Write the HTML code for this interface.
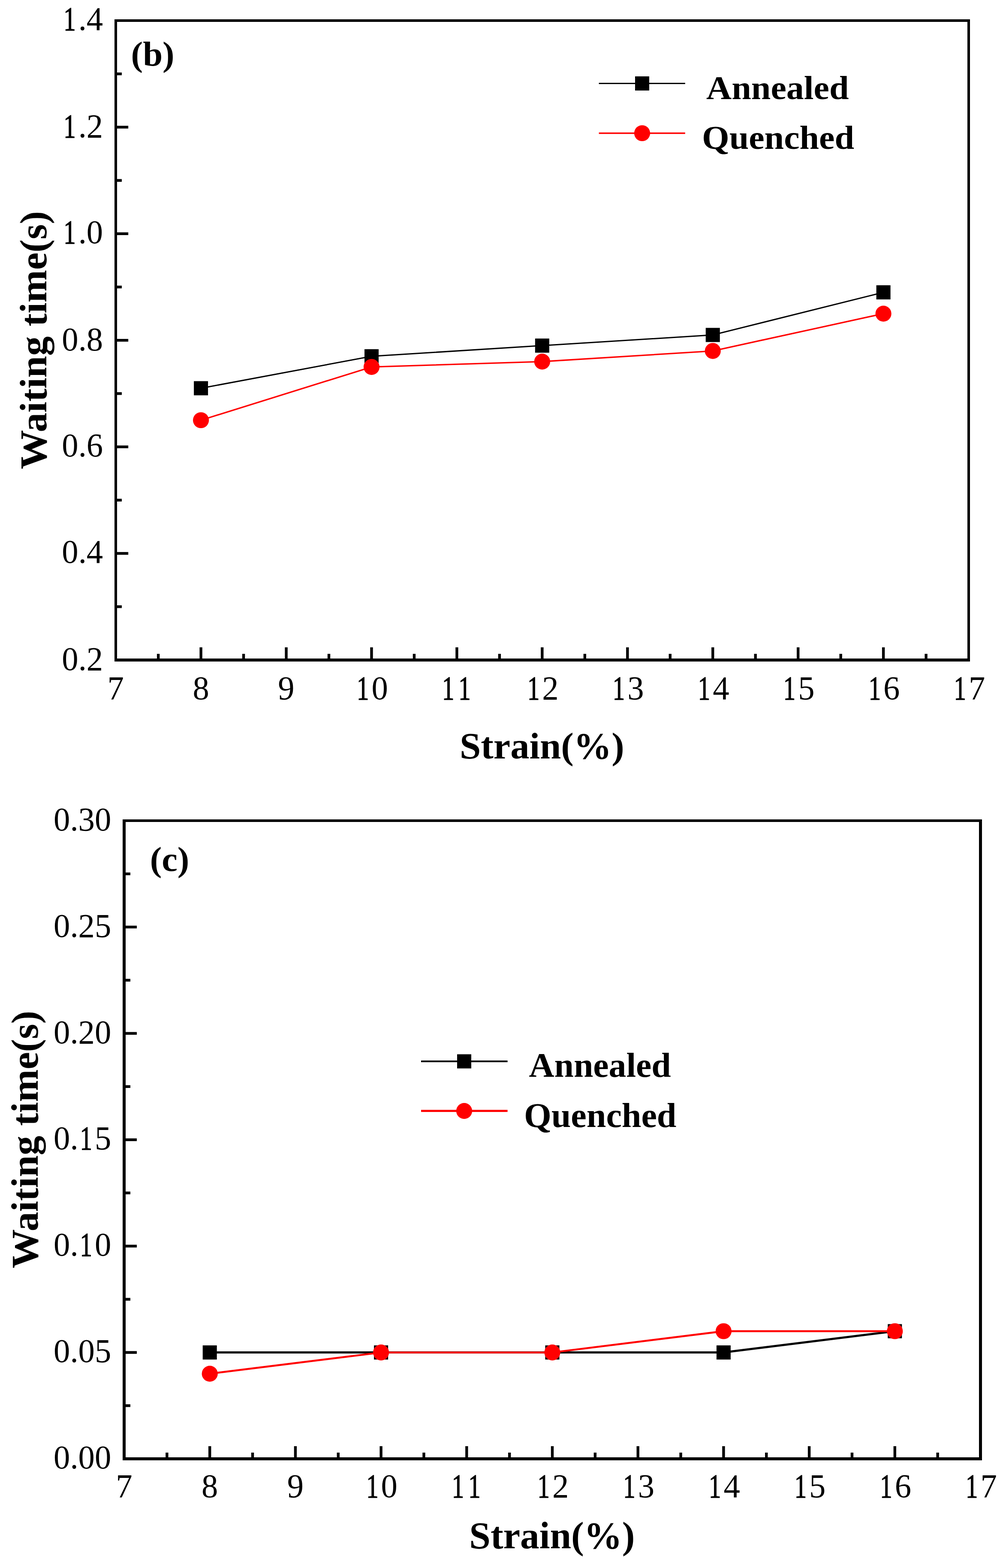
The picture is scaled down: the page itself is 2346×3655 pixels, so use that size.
<!DOCTYPE html>
<html><head><meta charset="utf-8"><title>Waiting time vs Strain</title>
<style>html,body{margin:0;padding:0;background:#fff;}svg{display:block;}</style></head>
<body>
<svg width="2346" height="3655" viewBox="0 0 2346 3655" font-family="'Liberation Serif', 'Times New Roman', serif">
<rect width="100%" height="100%" fill="#fff"/>
<path d="M267 45H2262V51H267Z M267 1535H2262V1542H267Z M267 45H273V1542H267Z M2256 45H2262V1542H2256Z" fill="#000"/>
<line x1="468.60" y1="1538.4" x2="468.60" y2="1508.90" stroke="#000" stroke-width="6.4"/>
<line x1="667.54" y1="1538.4" x2="667.54" y2="1508.90" stroke="#000" stroke-width="6.4"/>
<line x1="866.48" y1="1538.4" x2="866.48" y2="1508.90" stroke="#000" stroke-width="6.4"/>
<line x1="1065.42" y1="1538.4" x2="1065.42" y2="1508.90" stroke="#000" stroke-width="6.4"/>
<line x1="1264.36" y1="1538.4" x2="1264.36" y2="1508.90" stroke="#000" stroke-width="6.4"/>
<line x1="1463.30" y1="1538.4" x2="1463.30" y2="1508.90" stroke="#000" stroke-width="6.4"/>
<line x1="1662.24" y1="1538.4" x2="1662.24" y2="1508.90" stroke="#000" stroke-width="6.4"/>
<line x1="1861.18" y1="1538.4" x2="1861.18" y2="1508.90" stroke="#000" stroke-width="6.4"/>
<line x1="2060.12" y1="1538.4" x2="2060.12" y2="1508.90" stroke="#000" stroke-width="6.4"/>
<line x1="369.13" y1="1538.4" x2="369.13" y2="1524.10" stroke="#000" stroke-width="6.4"/>
<line x1="568.07" y1="1538.4" x2="568.07" y2="1524.10" stroke="#000" stroke-width="6.4"/>
<line x1="767.01" y1="1538.4" x2="767.01" y2="1524.10" stroke="#000" stroke-width="6.4"/>
<line x1="965.95" y1="1538.4" x2="965.95" y2="1524.10" stroke="#000" stroke-width="6.4"/>
<line x1="1164.89" y1="1538.4" x2="1164.89" y2="1524.10" stroke="#000" stroke-width="6.4"/>
<line x1="1363.83" y1="1538.4" x2="1363.83" y2="1524.10" stroke="#000" stroke-width="6.4"/>
<line x1="1562.77" y1="1538.4" x2="1562.77" y2="1524.10" stroke="#000" stroke-width="6.4"/>
<line x1="1761.71" y1="1538.4" x2="1761.71" y2="1524.10" stroke="#000" stroke-width="6.4"/>
<line x1="1960.65" y1="1538.4" x2="1960.65" y2="1524.10" stroke="#000" stroke-width="6.4"/>
<line x1="2159.59" y1="1538.4" x2="2159.59" y2="1524.10" stroke="#000" stroke-width="6.4"/>
<line x1="269.66" y1="1290.00" x2="299.16" y2="1290.00" stroke="#000" stroke-width="6.4"/>
<line x1="269.66" y1="1041.60" x2="299.16" y2="1041.60" stroke="#000" stroke-width="6.4"/>
<line x1="269.66" y1="793.20" x2="299.16" y2="793.20" stroke="#000" stroke-width="6.4"/>
<line x1="269.66" y1="544.80" x2="299.16" y2="544.80" stroke="#000" stroke-width="6.4"/>
<line x1="269.66" y1="296.40" x2="299.16" y2="296.40" stroke="#000" stroke-width="6.4"/>
<line x1="269.66" y1="1414.20" x2="283.96" y2="1414.20" stroke="#000" stroke-width="6.4"/>
<line x1="269.66" y1="1165.80" x2="283.96" y2="1165.80" stroke="#000" stroke-width="6.4"/>
<line x1="269.66" y1="917.40" x2="283.96" y2="917.40" stroke="#000" stroke-width="6.4"/>
<line x1="269.66" y1="669.00" x2="283.96" y2="669.00" stroke="#000" stroke-width="6.4"/>
<line x1="269.66" y1="420.60" x2="283.96" y2="420.60" stroke="#000" stroke-width="6.4"/>
<line x1="269.66" y1="172.20" x2="283.96" y2="172.20" stroke="#000" stroke-width="6.4"/>
<text transform="matrix(1 0 0 1.029 0 1630.30)" font-size="76.7"><tspan x="250.49">7</tspan></text>
<text transform="matrix(1 0 0 1.029 0 1630.30)" font-size="76.7"><tspan x="449.43">8</tspan></text>
<text transform="matrix(1 0 0 1.029 0 1630.30)" font-size="76.7"><tspan x="648.37">9</tspan></text>
<text transform="matrix(1 0 0 1.029 0 1630.30)" font-size="76.7"><tspan x="832.03" textLength="28.38" lengthAdjust="spacingAndGlyphs" stroke="#000" stroke-width="1.4">1</tspan><tspan x="866.48">0</tspan></text>
<text transform="matrix(1 0 0 1.029 0 1630.30)" font-size="76.7"><tspan x="1030.97" textLength="28.38" lengthAdjust="spacingAndGlyphs" stroke="#000" stroke-width="1.4">1</tspan><tspan x="1069.32" textLength="28.38" lengthAdjust="spacingAndGlyphs" stroke="#000" stroke-width="1.4">1</tspan></text>
<text transform="matrix(1 0 0 1.029 0 1630.30)" font-size="76.7"><tspan x="1229.91" textLength="28.38" lengthAdjust="spacingAndGlyphs" stroke="#000" stroke-width="1.4">1</tspan><tspan x="1264.36">2</tspan></text>
<text transform="matrix(1 0 0 1.029 0 1630.30)" font-size="76.7"><tspan x="1428.85" textLength="28.38" lengthAdjust="spacingAndGlyphs" stroke="#000" stroke-width="1.4">1</tspan><tspan x="1463.30">3</tspan></text>
<text transform="matrix(1 0 0 1.029 0 1630.30)" font-size="76.7"><tspan x="1627.79" textLength="28.38" lengthAdjust="spacingAndGlyphs" stroke="#000" stroke-width="1.4">1</tspan><tspan x="1662.24">4</tspan></text>
<text transform="matrix(1 0 0 1.029 0 1630.30)" font-size="76.7"><tspan x="1826.73" textLength="28.38" lengthAdjust="spacingAndGlyphs" stroke="#000" stroke-width="1.4">1</tspan><tspan x="1861.18">5</tspan></text>
<text transform="matrix(1 0 0 1.029 0 1630.30)" font-size="76.7"><tspan x="2025.67" textLength="28.38" lengthAdjust="spacingAndGlyphs" stroke="#000" stroke-width="1.4">1</tspan><tspan x="2060.12">6</tspan></text>
<text transform="matrix(1 0 0 1.029 0 1630.30)" font-size="76.7"><tspan x="2224.61" textLength="28.38" lengthAdjust="spacingAndGlyphs" stroke="#000" stroke-width="1.4">1</tspan><tspan x="2259.06">7</tspan></text>
<text transform="matrix(1 0 0 1.029 0 1561.85)" font-size="76.7"><tspan x="144.32">0</tspan><tspan x="182.67">.</tspan><tspan x="201.85">2</tspan></text>
<text transform="matrix(1 0 0 1.029 0 1312.35)" font-size="76.7"><tspan x="144.32">0</tspan><tspan x="182.67">.</tspan><tspan x="201.85">4</tspan></text>
<text transform="matrix(1 0 0 1.029 0 1063.90)" font-size="76.7"><tspan x="144.32">0</tspan><tspan x="182.67">.</tspan><tspan x="201.85">6</tspan></text>
<text transform="matrix(1 0 0 1.029 0 816.60)" font-size="76.7"><tspan x="144.32">0</tspan><tspan x="182.67">.</tspan><tspan x="201.85">8</tspan></text>
<text transform="matrix(1 0 0 1.029 0 566.80)" font-size="76.7"><tspan x="148.23" textLength="28.38" lengthAdjust="spacingAndGlyphs" stroke="#000" stroke-width="1.4">1</tspan><tspan x="182.67">.</tspan><tspan x="201.85">0</tspan></text>
<text transform="matrix(1 0 0 1.029 0 319.80)" font-size="76.7"><tspan x="148.23" textLength="28.38" lengthAdjust="spacingAndGlyphs" stroke="#000" stroke-width="1.4">1</tspan><tspan x="182.67">.</tspan><tspan x="201.85">2</tspan></text>
<text transform="matrix(1 0 0 1.029 0 70.00)" font-size="76.7"><tspan x="148.23" textLength="28.38" lengthAdjust="spacingAndGlyphs" stroke="#000" stroke-width="1.4">1</tspan><tspan x="182.67">.</tspan><tspan x="201.85">4</tspan></text>
<polyline points="468.60,904.98 866.48,830.46 1264.36,805.62 1662.24,780.78 2060.12,681.42" fill="none" stroke="#000" stroke-width="3"/>
<rect x="452.10" y="888.48" width="33" height="33" fill="#000"/>
<rect x="849.98" y="813.96" width="33" height="33" fill="#000"/>
<rect x="1247.86" y="789.12" width="33" height="33" fill="#000"/>
<rect x="1645.74" y="764.28" width="33" height="33" fill="#000"/>
<rect x="2043.62" y="664.92" width="33" height="33" fill="#000"/>
<polyline points="468.60,979.50 866.48,855.30 1264.36,842.88 1662.24,818.04 2060.12,731.10" fill="none" stroke="#f00" stroke-width="3.3"/>
<circle cx="468.60" cy="979.50" r="18.6" fill="#f00"/>
<circle cx="866.48" cy="855.30" r="18.6" fill="#f00"/>
<circle cx="1264.36" cy="842.88" r="18.6" fill="#f00"/>
<circle cx="1662.24" cy="818.04" r="18.6" fill="#f00"/>
<circle cx="2060.12" cy="731.10" r="18.6" fill="#f00"/>
<line x1="1396.6" y1="194.5" x2="1597.8" y2="194.5" stroke="#000" stroke-width="3"/>
<rect x="1481.0" y="178.0" width="33" height="33" fill="#000"/>
<line x1="1396.6" y1="310.5" x2="1597.8" y2="310.5" stroke="#f00" stroke-width="3.3"/>
<circle cx="1497.5" cy="310.5" r="18.6" fill="#f00"/>
<path d="M286 1910H2290V1916H286Z M286 3397H2290V3404H286Z M286 1910H293V3404H286Z M2283 1910H2290V3404H2283Z" fill="#000"/>
<line x1="489.20" y1="3400.5" x2="489.20" y2="3371.00" stroke="#000" stroke-width="6.4"/>
<line x1="688.90" y1="3400.5" x2="688.90" y2="3371.00" stroke="#000" stroke-width="6.4"/>
<line x1="888.60" y1="3400.5" x2="888.60" y2="3371.00" stroke="#000" stroke-width="6.4"/>
<line x1="1088.30" y1="3400.5" x2="1088.30" y2="3371.00" stroke="#000" stroke-width="6.4"/>
<line x1="1288.00" y1="3400.5" x2="1288.00" y2="3371.00" stroke="#000" stroke-width="6.4"/>
<line x1="1487.70" y1="3400.5" x2="1487.70" y2="3371.00" stroke="#000" stroke-width="6.4"/>
<line x1="1687.40" y1="3400.5" x2="1687.40" y2="3371.00" stroke="#000" stroke-width="6.4"/>
<line x1="1887.10" y1="3400.5" x2="1887.10" y2="3371.00" stroke="#000" stroke-width="6.4"/>
<line x1="2086.80" y1="3400.5" x2="2086.80" y2="3371.00" stroke="#000" stroke-width="6.4"/>
<line x1="389.35" y1="3400.5" x2="389.35" y2="3386.00" stroke="#000" stroke-width="6.4"/>
<line x1="589.05" y1="3400.5" x2="589.05" y2="3386.00" stroke="#000" stroke-width="6.4"/>
<line x1="788.75" y1="3400.5" x2="788.75" y2="3386.00" stroke="#000" stroke-width="6.4"/>
<line x1="988.45" y1="3400.5" x2="988.45" y2="3386.00" stroke="#000" stroke-width="6.4"/>
<line x1="1188.15" y1="3400.5" x2="1188.15" y2="3386.00" stroke="#000" stroke-width="6.4"/>
<line x1="1387.85" y1="3400.5" x2="1387.85" y2="3386.00" stroke="#000" stroke-width="6.4"/>
<line x1="1587.55" y1="3400.5" x2="1587.55" y2="3386.00" stroke="#000" stroke-width="6.4"/>
<line x1="1787.25" y1="3400.5" x2="1787.25" y2="3386.00" stroke="#000" stroke-width="6.4"/>
<line x1="1986.95" y1="3400.5" x2="1986.95" y2="3386.00" stroke="#000" stroke-width="6.4"/>
<line x1="2186.65" y1="3400.5" x2="2186.65" y2="3386.00" stroke="#000" stroke-width="6.4"/>
<line x1="289.5" y1="3152.58" x2="319.00" y2="3152.58" stroke="#000" stroke-width="6.4"/>
<line x1="289.5" y1="2904.67" x2="319.00" y2="2904.67" stroke="#000" stroke-width="6.4"/>
<line x1="289.5" y1="2656.75" x2="319.00" y2="2656.75" stroke="#000" stroke-width="6.4"/>
<line x1="289.5" y1="2408.83" x2="319.00" y2="2408.83" stroke="#000" stroke-width="6.4"/>
<line x1="289.5" y1="2160.92" x2="319.00" y2="2160.92" stroke="#000" stroke-width="6.4"/>
<line x1="289.5" y1="3276.54" x2="304.00" y2="3276.54" stroke="#000" stroke-width="6.4"/>
<line x1="289.5" y1="3028.62" x2="304.00" y2="3028.62" stroke="#000" stroke-width="6.4"/>
<line x1="289.5" y1="2780.71" x2="304.00" y2="2780.71" stroke="#000" stroke-width="6.4"/>
<line x1="289.5" y1="2532.79" x2="304.00" y2="2532.79" stroke="#000" stroke-width="6.4"/>
<line x1="289.5" y1="2284.88" x2="304.00" y2="2284.88" stroke="#000" stroke-width="6.4"/>
<line x1="289.5" y1="2036.96" x2="304.00" y2="2036.96" stroke="#000" stroke-width="6.4"/>
<text transform="matrix(1 0 0 1.029 0 3490.30)" font-size="76.7"><tspan x="270.32">7</tspan></text>
<text transform="matrix(1 0 0 1.029 0 3490.30)" font-size="76.7"><tspan x="470.02">8</tspan></text>
<text transform="matrix(1 0 0 1.029 0 3490.30)" font-size="76.7"><tspan x="669.73">9</tspan></text>
<text transform="matrix(1 0 0 1.029 0 3490.30)" font-size="76.7"><tspan x="854.15" textLength="28.38" lengthAdjust="spacingAndGlyphs" stroke="#000" stroke-width="1.4">1</tspan><tspan x="888.60">0</tspan></text>
<text transform="matrix(1 0 0 1.029 0 3490.30)" font-size="76.7"><tspan x="1053.85" textLength="28.38" lengthAdjust="spacingAndGlyphs" stroke="#000" stroke-width="1.4">1</tspan><tspan x="1092.20" textLength="28.38" lengthAdjust="spacingAndGlyphs" stroke="#000" stroke-width="1.4">1</tspan></text>
<text transform="matrix(1 0 0 1.029 0 3490.30)" font-size="76.7"><tspan x="1253.55" textLength="28.38" lengthAdjust="spacingAndGlyphs" stroke="#000" stroke-width="1.4">1</tspan><tspan x="1288.00">2</tspan></text>
<text transform="matrix(1 0 0 1.029 0 3490.30)" font-size="76.7"><tspan x="1453.25" textLength="28.38" lengthAdjust="spacingAndGlyphs" stroke="#000" stroke-width="1.4">1</tspan><tspan x="1487.70">3</tspan></text>
<text transform="matrix(1 0 0 1.029 0 3490.30)" font-size="76.7"><tspan x="1652.95" textLength="28.38" lengthAdjust="spacingAndGlyphs" stroke="#000" stroke-width="1.4">1</tspan><tspan x="1687.40">4</tspan></text>
<text transform="matrix(1 0 0 1.029 0 3490.30)" font-size="76.7"><tspan x="1852.65" textLength="28.38" lengthAdjust="spacingAndGlyphs" stroke="#000" stroke-width="1.4">1</tspan><tspan x="1887.10">5</tspan></text>
<text transform="matrix(1 0 0 1.029 0 3490.30)" font-size="76.7"><tspan x="2052.35" textLength="28.38" lengthAdjust="spacingAndGlyphs" stroke="#000" stroke-width="1.4">1</tspan><tspan x="2086.80">6</tspan></text>
<text transform="matrix(1 0 0 1.029 0 3490.30)" font-size="76.7"><tspan x="2252.05" textLength="28.38" lengthAdjust="spacingAndGlyphs" stroke="#000" stroke-width="1.4">1</tspan><tspan x="2286.50">7</tspan></text>
<text transform="matrix(1 0 0 1.029 0 3423.20)" font-size="76.7"><tspan x="125.08">0</tspan><tspan x="163.43">.</tspan><tspan x="182.60">0</tspan><tspan x="220.95">0</tspan></text>
<text transform="matrix(1 0 0 1.029 0 3175.28)" font-size="76.7"><tspan x="125.08">0</tspan><tspan x="163.43">.</tspan><tspan x="182.60">0</tspan><tspan x="220.95">5</tspan></text>
<text transform="matrix(1 0 0 1.029 0 2927.37)" font-size="76.7"><tspan x="125.08">0</tspan><tspan x="163.43">.</tspan><tspan x="186.50" textLength="28.38" lengthAdjust="spacingAndGlyphs" stroke="#000" stroke-width="1.4">1</tspan><tspan x="220.95">0</tspan></text>
<text transform="matrix(1 0 0 1.029 0 2679.45)" font-size="76.7"><tspan x="125.08">0</tspan><tspan x="163.43">.</tspan><tspan x="186.50" textLength="28.38" lengthAdjust="spacingAndGlyphs" stroke="#000" stroke-width="1.4">1</tspan><tspan x="220.95">5</tspan></text>
<text transform="matrix(1 0 0 1.029 0 2431.53)" font-size="76.7"><tspan x="125.08">0</tspan><tspan x="163.43">.</tspan><tspan x="182.60">2</tspan><tspan x="220.95">0</tspan></text>
<text transform="matrix(1 0 0 1.029 0 2183.62)" font-size="76.7"><tspan x="125.08">0</tspan><tspan x="163.43">.</tspan><tspan x="182.60">2</tspan><tspan x="220.95">5</tspan></text>
<text transform="matrix(1 0 0 1.029 0 1935.70)" font-size="76.7"><tspan x="125.08">0</tspan><tspan x="163.43">.</tspan><tspan x="182.60">3</tspan><tspan x="220.95">0</tspan></text>
<polyline points="489.20,3152.58 888.60,3152.58 1288.00,3152.58 1687.40,3152.58 2086.80,3103.00" fill="none" stroke="#000" stroke-width="5"/>
<rect x="472.70" y="3136.08" width="33" height="33" fill="#000"/>
<rect x="872.10" y="3136.08" width="33" height="33" fill="#000"/>
<rect x="1271.50" y="3136.08" width="33" height="33" fill="#000"/>
<rect x="1670.90" y="3136.08" width="33" height="33" fill="#000"/>
<rect x="2070.30" y="3086.50" width="33" height="33" fill="#000"/>
<polyline points="489.20,3202.17 888.60,3152.58 1288.00,3152.58 1687.40,3103.00 2086.80,3103.00" fill="none" stroke="#f00" stroke-width="4.4"/>
<circle cx="489.20" cy="3202.17" r="18.6" fill="#f00"/>
<circle cx="888.60" cy="3152.58" r="18.6" fill="#f00"/>
<circle cx="1288.00" cy="3152.58" r="18.6" fill="#f00"/>
<circle cx="1687.40" cy="3103.00" r="18.6" fill="#f00"/>
<circle cx="2086.80" cy="3103.00" r="18.6" fill="#f00"/>
<line x1="982" y1="2474" x2="1183.6" y2="2474" stroke="#000" stroke-width="4"/>
<rect x="1066.0" y="2457.5" width="33" height="33" fill="#000"/>
<line x1="982" y1="2589.6" x2="1183.6" y2="2589.6" stroke="#f00" stroke-width="5"/>
<circle cx="1082.5" cy="2589.6" r="18.6" fill="#f00"/>
<text transform="translate(305.59 153.18) scale(0.8272 0.8011)" font-weight="bold" font-size="100">(b)</text>
<text transform="translate(349.70 2030.23) scale(0.8262 0.8033)" font-weight="bold" font-size="100">(c)</text>
<text transform="translate(1647.08 231.00) scale(0.8196 0.7841)" font-weight="bold" font-size="100">Annealed</text>
<text transform="translate(1636.90 347.00) scale(0.8194 0.7841)" font-weight="bold" font-size="100">Quenched</text>
<text transform="translate(1233.48 2510.20) scale(0.8169 0.7957)" font-weight="bold" font-size="100">Annealed</text>
<text transform="translate(1221.90 2626.60) scale(0.8206 0.7957)" font-weight="bold" font-size="100">Quenched</text>
<text transform="translate(1072.07 1768.31) scale(0.8858 0.8756)" font-weight="bold" font-size="100">Strain(%)</text>
<text transform="translate(1094.34 3609.12) scale(0.8913 0.8800)" font-weight="bold" font-size="100">Strain(%)</text>
<text transform="translate(108.33 1093.81) rotate(-90) scale(0.9145 0.8889)" font-weight="bold" font-size="100">Waiting time(s)</text>
<text transform="translate(88.29 2956.51) rotate(-90) scale(0.9123 0.8911)" font-weight="bold" font-size="100">Waiting time(s)</text>
</svg>
</body></html>
